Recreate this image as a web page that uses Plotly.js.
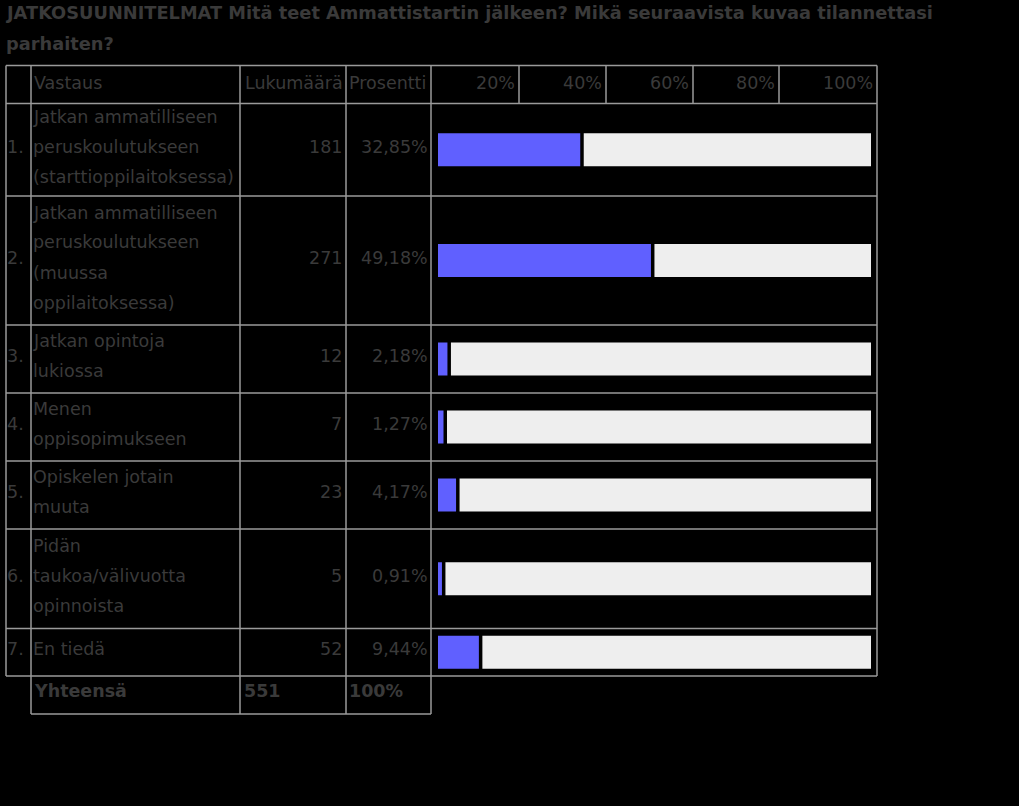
<!DOCTYPE html>
<html>
<head>
<meta charset="utf-8">
<script src="https://cdn.plot.ly/plotly-3.0.1.min.js"></script>
<style>
  html, body { margin: 0; padding: 0; background: #000; }
  #chart { width: 1019px; height: 806px; }
</style>
</head>
<body>
<div id="chart"></div>
<script>
// data
const titleLines = ['JATKOSUUNNITELMAT Mitä teet Ammattistartin jälkeen? Mikä seuraavista kuvaa tilannettasi', 'parhaiten?'];
const headers = ['Vastaus', 'Lukumäärä', 'Prosentti'];
const rowNums = ['1.', '2.', '3.', '4.', '5.', '6.', '7.'];
const answers = [
    ['Jatkan ammatilliseen', 'peruskoulutukseen', '(starttioppilaitoksessa)'],
    ['Jatkan ammatilliseen', 'peruskoulutukseen', '(muussa', 'oppilaitoksessa)'],
    ['Jatkan opintoja', 'lukiossa'],
    ['Menen', 'oppisopimukseen'],
    ['Opiskelen jotain', 'muuta'],
    ['Pidän', 'taukoa/välivuotta', 'opinnoista'],
    ['En tiedä']
];
const counts = [181, 271, 12, 7, 23, 5, 52];
const percents = [32.85, 49.18, 2.18, 1.27, 4.17, 0.91, 9.44];
const tickLabels = ['20%', '40%', '60%', '80%', '100%'];
const totalLabel = 'Yhteensä';
const totalCount = 551;
const totalPercent = '100%';

// table layout (pixels)
const W = 1019, H = 806;
const rowEdges = [65.5, 103.5, 196, 325, 393, 461, 529, 628.5, 676, 714];
const colEdges = [6, 31, 240, 346, 431, 877];
const headDividers = [519, 606, 693, 779, 877];
const barLeft = 438, barRight = 871;
const lineH = 30;
const txtColor = '#3a3a3a';
const gridColor = '#9a9a9a';
const fnt = 'DejaVu Sans, Verdana, sans-serif';
const fs = 17.5;

const px = x => x / W;
const py = y => 1 - y / H;
const fmtPct = v => v.toFixed(2).replace('.', ',') + '%';

const annotations = [];
function label(text, x, y, anchor, bold, size) {
    annotations.push({
        xref: 'paper', yref: 'paper', x: px(x), y: py(y),
        xanchor: anchor, yanchor: 'middle', showarrow: false,
        text: bold ? '<b>' + text + '</b>' : text,
        font: {family: fnt, size: size || fs, color: txtColor}
    });
}

// title
titleLines.forEach((t, i) => label(t, 4, 13 + i * 31, 'left', true, 17.8));

// header
const headMid = (rowEdges[0] + rowEdges[1]) / 2 - 2;
label(headers[0], 32, headMid, 'left');
label(headers[1], 243, headMid, 'left');
label(headers[2], 347, headMid, 'left');
tickLabels.forEach((t, i) => label(t, headDividers[i] - 2, headMid, 'right'));

// rows
const rowCenters = [];
rowNums.forEach((n, i) => {
    const mid = (rowEdges[i + 1] + rowEdges[i + 2]) / 2;
    rowCenters.push(mid);
    const tmid = mid - 3;
    label(n, 5, tmid, 'left');
    const lines = answers[i];
    lines.forEach((ln, j) => {
        label(ln, 31, tmid + (j - (lines.length - 1) / 2) * lineH, 'left');
    });
    label(String(counts[i]), 344, tmid, 'right');
    label(fmtPct(percents[i]), 430, tmid, 'right');
});

// total row
const totMid = (rowEdges[8] + rowEdges[9]) / 2 - 4;
label(totalLabel, 32, totMid, 'left', true);
label(String(totalCount), 242, totMid, 'left', true);
label(totalPercent, 347, totMid, 'left', true);

// grid lines
const shapes = [];
function line(x0, y0, x1, y1) {
    shapes.push({type: 'line', xref: 'paper', yref: 'paper',
        x0: px(x0), y0: py(y0), x1: px(x1), y1: py(y1),
        line: {color: gridColor, width: 1.5}});
}
const tableBottom = rowEdges[8];
rowEdges.slice(0, 9).forEach(y => line(colEdges[0], y, colEdges[5], y));
line(colEdges[1], rowEdges[9], colEdges[4], rowEdges[9]);
line(colEdges[0], rowEdges[0], colEdges[0], tableBottom);
line(colEdges[5], rowEdges[0], colEdges[5], tableBottom);
colEdges.slice(1, 5).forEach(x => line(x, rowEdges[0], x, rowEdges[9]));
headDividers.slice(0, 4).forEach(x => line(x, rowEdges[0], x, rowEdges[1]));

// bars: value part + remainder, with a small gap
const gap = 3.5 / (barRight - barLeft) * 100;
const traces = [
    {
        type: 'bar', orientation: 'h', x: percents, y: rowCenters, base: 0,
        width: 33, marker: {color: '#6060ff'}, hoverinfo: 'skip'
    },
    {
        type: 'bar', orientation: 'h',
        x: percents.map(v => 100 - v - gap), base: percents.map(v => v + gap),
        y: rowCenters, width: 33, marker: {color: '#eeeeee'}, hoverinfo: 'skip'
    }
];

const layout = {
    width: W, height: H,
    margin: {l: 0, r: 0, t: 0, b: 0},
    paper_bgcolor: '#000', plot_bgcolor: 'rgba(0,0,0,0)',
    showlegend: false, barmode: 'overlay',
    xaxis: {domain: [px(barLeft), px(barRight)], range: [0, 100], visible: false, fixedrange: true},
    yaxis: {domain: [0, 1], range: [H, 0], visible: false, fixedrange: true},
    annotations: annotations,
    shapes: shapes
};

Plotly.newPlot('chart', traces, layout, {staticPlot: true});
</script>
</body>
</html>
